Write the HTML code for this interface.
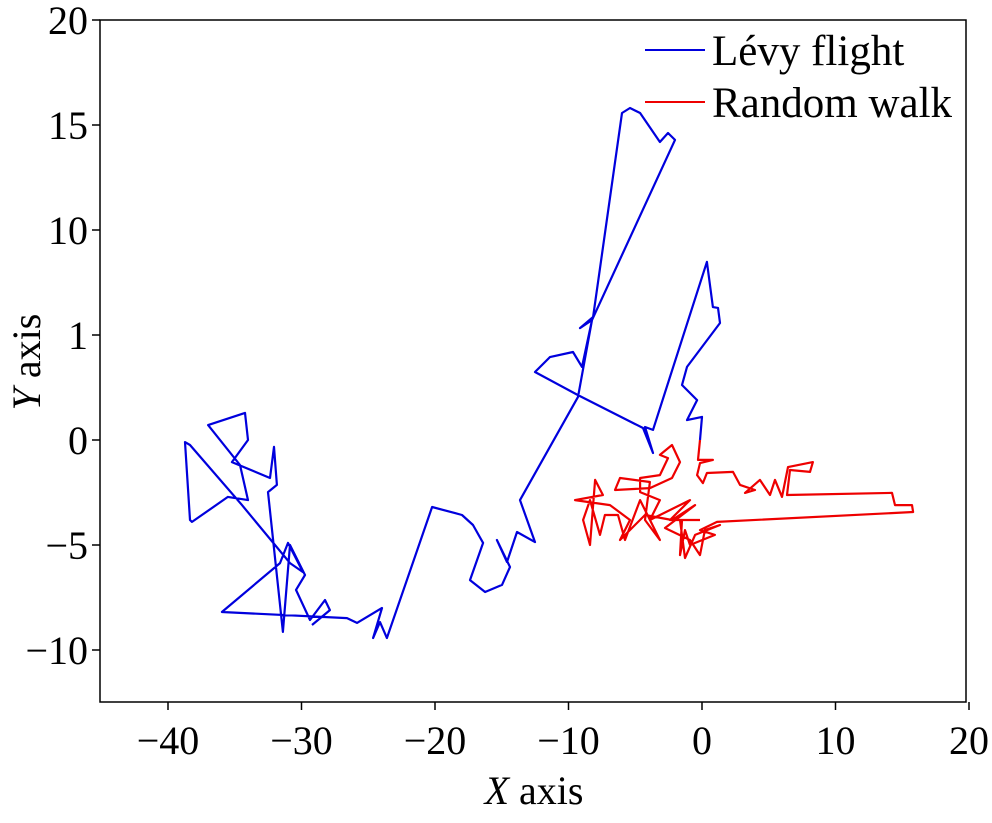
<!DOCTYPE html>
<html><head><meta charset="utf-8"><style>
body{margin:0;background:#fff}
svg text{font-family:"Liberation Serif",serif;fill:#000}
</style></head><body>
<svg width="992" height="818" viewBox="0 0 992 818" xmlns="http://www.w3.org/2000/svg">
<g id="axes"></g>
<g id="series"></g>
<g id="legend"></g>
</svg>
<script>
const xTicks=[-40,-30,-20,-10,0,10,20];
const xTickLabels=["\u221240","\u221230","\u221220","\u221210","0","10","20"];
const yTicks=[20,15,10,5,0,-5,-10];
const yTickLabels=["20","15","10","1","0","\u22125","\u221210"];
const levyX=[-0.15,0,-1.12,-0.37,-1.5,-1.12,1.35,1.2,0.82,0.37,-3.67,-4.27,-3.67,-4.42,-9.29,-12.51,-11.39,-9.66,-8.99,-8.24,-9.14,-8.16,-5.99,-5.39,-4.64,-3.15,-2.55,-2.02,-8.24,-9.29,-13.63,-12.51,-13.86,-14.61,-15.36,-14.38,-14.98,-16.25,-17.38,-16.40,-17.15,-17.98,-18.50,-20.22,-23.60,-24.12,-24.64,-23.97,-25.84,-26.59,-35.96,-31.61,-31.01,-29.89,-30.86,-34.46,-38.35,-38.73,-38.35,-38.20,-35.51,-34.01,-34.61,-37.00,-34.23,-34.01,-35.21,-32.36,-32.06,-31.84,-32.51,-31.39,-30.86,-29.74,-30.41,-29.36,-28.24,-27.87,-29.21];
const levyY=[0,1.10,0.95,1.90,2.62,3.48,5.57,6.29,6.33,8.48,0.48,0.62,-0.62,0.57,2.14,3.24,3.95,4.19,3.48,5.71,5.33,5.86,15.57,15.81,15.57,14.19,14.62,14.29,5.71,2.05,-2.86,-4.86,-4.38,-5.81,-4.76,-6.05,-6.90,-7.24,-6.67,-4.90,-4.05,-3.57,-3.48,-3.19,-9.43,-8.67,-9.43,-8.0,-8.71,-8.48,-8.19,-5.86,-4.90,-6.29,-5.86,-3.10,-0.24,-0.10,-3.81,-3.90,-2.71,-2.86,-1.19,0.71,1.29,0,-1.05,-1.81,-0.33,-2.14,-2.48,-9.14,-5.0,-6.43,-7.14,-8.57,-7.62,-8.10,-8.81];
const walkX=[-0.15,-0.30,0.82,-0.15,-0.37,0.07,0.37,2.32,2.85,3.97,3.22,4.34,5.09,5.47,5.99,6.44,8.31,8.09,6.59,6.37,14.23,14.46,15.73,15.81,1.12,-0.15,0.97,-0.90,-1.27,-1.65,-1.50,-2.40,-0.90,-3.90,-3.15,-4.64,-4.64,-3.15,-2.55,-3.15,-2.25,-1.65,-2.25,-3.90,-6.52,-6.14,-3.90,-4.27,-3.15,-4.64,-5.77,-6.29,-7.27,-7.64,-8.39,-8.91,-8.39,-8.01,-7.42,-9.51,-6.89,-5.39,-6.14,-4.27,-2.25,-0.52,-2.77,-0.90,-0.15,0.22,1.35,-0.52,-1.27,-1.65,-0.15];
const walkY=[0,-0.95,-0.95,-1.10,-1.67,-2.05,-1.57,-1.52,-2.14,-2.38,-2.52,-1.90,-2.62,-1.90,-2.71,-1.29,-1.05,-1.52,-1.43,-2.62,-2.52,-3.10,-3.10,-3.43,-3.90,-4.29,-4.52,-5.0,-4.29,-5.48,-3.81,-3.81,-2.86,-3.81,-2.86,-2.48,-1.81,-1.67,-0.86,-0.71,-0.24,-1.05,-1.81,-2.29,-2.38,-1.81,-2.0,-3.81,-4.76,-2.86,-4.76,-3.57,-3.57,-4.52,-2.86,-3.81,-5.0,-1.90,-2.62,-2.86,-3.10,-3.81,-4.76,-3.57,-3.81,-3.10,-4.19,-4.76,-5.48,-4.29,-4.05,-4.52,-5.62,-3.81,-3.81];

const L=100,R=966,T=20,B=702;
const sx=v=>702+v*13.35;
const sy=v=>440-v*21;
const NS="http://www.w3.org/2000/svg";
function mk(tag,attrs,parent){const e=document.createElementNS(NS,tag);for(const k in attrs)e.setAttribute(k,attrs[k]);parent.appendChild(e);return e;}
const axes=document.getElementById('axes');
const frame=mk('rect',{x:L,y:T,width:R-L,height:B-T,fill:'none',stroke:'#000','stroke-width':1.5},axes);


xTicks.forEach((v,i)=>{
  const t=mk('line',{x1:sx(v),x2:sx(v),y1:B,y2:B+8,stroke:'#000','stroke-width':1.5},axes);
  
  
  const tx=mk('text',{x:sx(v),y:B+52,'text-anchor':'middle','font-size':40},axes);
  tx.textContent=xTickLabels[i];
  
  
});
yTicks.forEach((v,i)=>{
  const t=mk('line',{x1:L-8,x2:L,y1:sy(v),y2:sy(v),stroke:'#000','stroke-width':1.5},axes);
  
  
  const tx=mk('text',{x:L-12,y:sy(v)+14,'text-anchor':'end','font-size':40},axes);
  tx.textContent=yTickLabels[i];
  
  
});
const xt=mk('text',{x:534,y:804,'text-anchor':'middle','font-size':40},axes);
xt.innerHTML='<tspan font-style="italic">X</tspan> axis';


const yt=mk('text',{x:0,y:0,'text-anchor':'middle','font-size':40,transform:'translate(40,362) rotate(-90)'},axes);
yt.innerHTML='<tspan font-style="italic">Y</tspan> axis';



const ser=document.getElementById('series');
function path(xs,ys,col,name){
  const d=xs.map((v,i)=>(i?'L':'M')+sx(v).toFixed(1)+' '+sy(ys[i]).toFixed(1)).join(' ');
  const p=mk('path',{d:d,fill:'none',stroke:col,'stroke-width':2.2,'stroke-linejoin':'round'},ser);
  
  
}
path(levyX,levyY,'#0000dd','levy-flight-line');
path(walkX,walkY,'#ee0000','random-walk-line');

const lg=document.getElementById('legend');
[['Lévy flight','#0000dd',50,'legend-levy-flight'],['Random walk','#ee0000',102,'legend-random-walk']].forEach(a=>{
  const g=mk('g',{},lg);
  
  
  mk('line',{x1:645,x2:705,y1:a[2],y2:a[2],stroke:a[1],'stroke-width':2},g);
  const t=mk('text',{x:712,y:a[2]+15,'font-size':43},g);
  t.textContent=a[0];
});
</script>
</body></html>
